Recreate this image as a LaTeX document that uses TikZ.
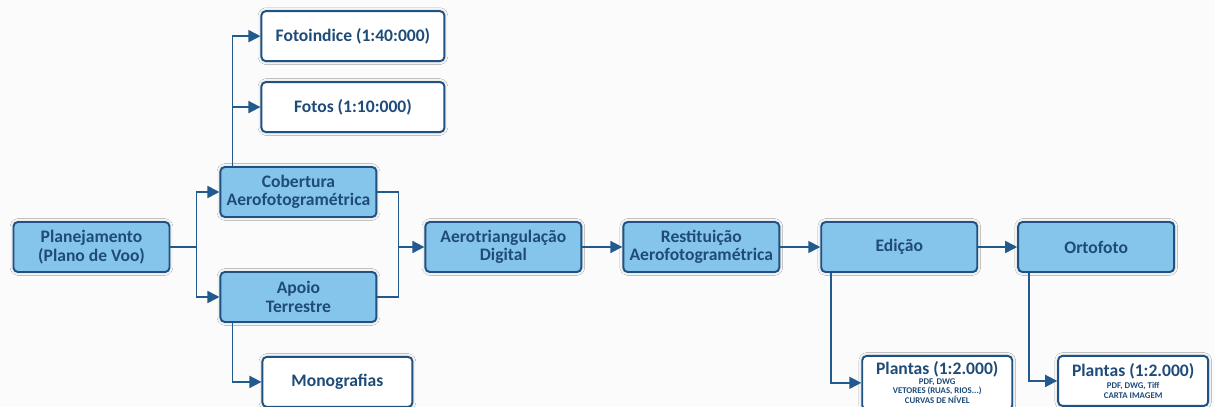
\documentclass[tikz,border=0pt]{standalone}
\usepackage{fontspec}
\setmainfont{Carlito}
\usepackage{xcolor}
\usetikzlibrary{
    positioning,      % For placing nodes relative to each other (e.g., right=of)
    arrows.meta,      % For the filled triangle arrow tips
    shadows.blur      % For the soft shadow round the boxes
}
\definecolor{BorderColor}{HTML}{1F5283}
\definecolor{FillBlue}{HTML}{86C5EB}
\definecolor{TextBlue}{HTML}{1E4B78}
\definecolor{LineBlue}{HTML}{235A8E}
\definecolor{PageColor}{HTML}{FBFBFB}

\begin{document}
\begin{tikzpicture}[
    % Bold, dark blue text everywhere
    font=\bfseries\fontsize{10}{10.5}\selectfont,
    text=TextBlue,
]
    % --- Define TikZ styles for diagram elements ---
    \tikzset{
        % Light blue process boxes
        block/.style={
            shape=rectangle,
            rounded corners=2.5pt,
            draw=BorderColor,
            line width=1.1pt,
            fill=FillBlue,
            blur shadow={shadow blur steps=6, shadow xshift=0pt, shadow yshift=0pt, shadow opacity=25},
            align=center,
            minimum height=1.0cm,
            minimum width=3.12cm,
        },
        % White boxes for the products
        product/.style={
            block,
            fill=white,
            minimum height=1.0cm,
            minimum width=3.0cm,
        },
        % Connector with a filled triangle tip
        arrow/.style={
            draw=LineBlue,
            line width=1pt,
            -{Triangle[length=0.24cm,width=0.24cm]}
        },
        link/.style={draw=LineBlue, line width=1pt}
    }

    % --- Page size and background ---
    \fill[PageColor] (0,0) rectangle (24.3,-8.14);
    \useasboundingbox (0,0) rectangle (24.3,-8.14);

    % 1. Start of the chain
    \node[block] (plan) at (1.83,-4.94) {Planejamento\\(Plano de Voo)};

    % 2. The two branches after the planning
    \node[block, right=0.98cm of plan, yshift=1.1cm] (cobertura) {Cobertura\\Aerofotogramétrica};
    \node[block, right=0.98cm of plan, yshift=-1.0cm] (apoio) {Apoio\\Terrestre};

    % 3. Products of the two branches
    \node[product, minimum width=3.66cm, above=0.66cm of cobertura.north west,
          anchor=south west, xshift=0.82cm] (fotos) {Fotos (1:10:000)};
    \node[product, minimum width=3.66cm, above=0.38cm of fotos] (fotoindice) {Fotoindice (1:40:000)};
    \node[product, below=0.66cm of apoio.south west,
          anchor=north west, xshift=0.84cm] (monografias) {Monografias};

    % 4. The main row
    \node[block, anchor=west] (aerotri) at ([xshift=0.94cm]cobertura.east |- plan.east) {Aerotriangulação\\Digital};
    \node[block, right=0.8cm of aerotri] (restituicao) {Restituição\\Aerofotogramétrica};
    \node[block, right=0.8cm of restituicao] (edicao) {Edição};
    \node[block, right=0.78cm of edicao] (ortofoto) {Ortofoto};

    % 5. Final products
    \node[product, below=1.64cm of edicao.south west, anchor=north west,
          xshift=0.82cm] (plantasEd) {Plantas (1:2.000)\\[-0.5pt]
          \makebox[0pt]{\parbox{3cm}{\centering
          \fontsize{5}{5.6}\selectfont PDF, DWG\\VETORES (RUAS, RIOS...)\\CURVAS DE NÍVEL}}};
    \node[product, below=1.64cm of ortofoto.south west, anchor=north west,
          xshift=0.8cm] (plantasOrto) {Plantas (1:2.000)\\[-0.5pt]
          \makebox[0pt]{\parbox{3cm}{\centering
          \fontsize{5}{5.6}\selectfont PDF, DWG, Tiff\\CARTA IMAGEM}}};

    % --- Connectors ---
    % split after the planning
    \coordinate[right=0.52cm of plan.east] (split);
    \draw[link] (plan.east) -- (split);
    \draw[arrow] (split) |- (cobertura.west);
    \draw[arrow] (split) |- (apoio.west);

    % branch products
    \coordinate (cobTap) at ([xshift=0.26cm]cobertura.north west);
    \draw[arrow] (cobTap) |- (fotoindice.west);
    \draw[arrow] (cobTap) |- (fotos.west);
    \coordinate (apoioTap) at ([xshift=0.26cm]apoio.south west);
    \draw[arrow] (apoioTap) |- (monografias.west);

    % join before the aerotriangulation
    \coordinate[right=0.42cm of cobertura.east] (join);
    \draw[link] (cobertura.east) -- (join) |- (apoio.east);
    \draw[arrow] (join |- aerotri.west) -- (aerotri.west);

    % main row
    \draw[arrow] (aerotri.east) -- (restituicao.west);
    \draw[arrow] (restituicao.east) -- (edicao.west);
    \draw[arrow] (edicao.east) -- (ortofoto.west);

    % final products
    \coordinate (edTap) at ([xshift=0.22cm]edicao.south west);
    \draw[arrow] (edTap) |- (plantasEd.west);
    \coordinate (ortoTap) at ([xshift=0.24cm]ortofoto.south west);
    \draw[arrow] (ortoTap) |- (plantasOrto.west);

\end{tikzpicture}
\end{document}
